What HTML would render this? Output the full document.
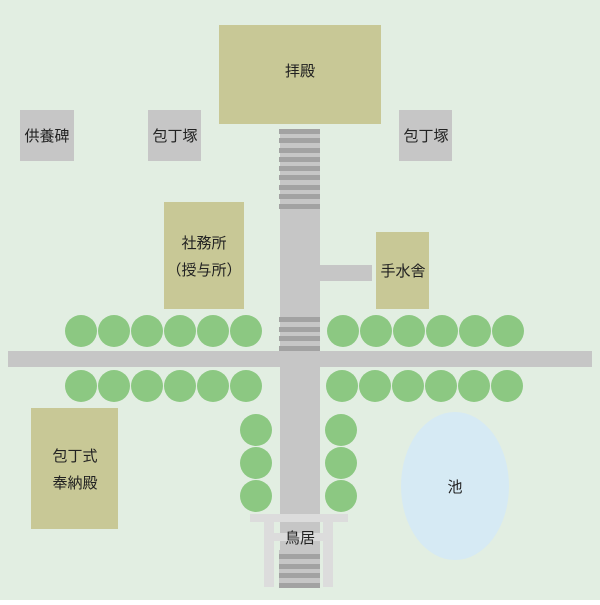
<!DOCTYPE html><html><head><meta charset="utf-8"><style>
body{margin:0}
.t{font-family:"Liberation Sans","Noto Sans CJK JP",sans-serif;font-size:15px;fill:#222}
</style></head><body>
<svg width="600" height="600" xmlns="http://www.w3.org/2000/svg">
<rect width="600" height="600" fill="#e2eee2"/>
<rect x="219" y="25" width="162" height="99" fill="#c8c896"/>
<rect x="20" y="110" width="54" height="51" fill="#c6c6c6"/>
<rect x="148" y="110" width="53" height="51" fill="#c6c6c6"/>
<rect x="399" y="110" width="53" height="51" fill="#c6c6c6"/>
<rect x="164" y="202" width="80" height="107" fill="#c8c896"/>
<rect x="376" y="232" width="53" height="77" fill="#c8c896"/>
<rect x="31" y="408" width="87" height="121" fill="#c8c896"/>
<ellipse cx="455" cy="486" rx="54" ry="74" fill="#d6eaf4"/>
<rect x="8" y="351" width="584" height="16" fill="#c6c6c6"/>
<rect x="280" y="129" width="40" height="421" fill="#c6c6c6"/>
<rect x="320" y="265" width="52" height="16" fill="#c6c6c6"/>
<g fill="#a2a2a2">
<rect x="279" y="129" width="41" height="5"/><rect x="279" y="138" width="41" height="5"/><rect x="279" y="148" width="41" height="5"/><rect x="279" y="157" width="41" height="5"/><rect x="279" y="166" width="41" height="5"/><rect x="279" y="175" width="41" height="5"/><rect x="279" y="185" width="41" height="5"/><rect x="279" y="194" width="41" height="5"/><rect x="279" y="204" width="41" height="5"/>
<rect x="279" y="317" width="41" height="5"/><rect x="279" y="327" width="41" height="5"/><rect x="279" y="336" width="41" height="5"/><rect x="279" y="346" width="41" height="5"/>
</g>
<g fill="#8cc882">
<circle cx="81" cy="331" r="16"/><circle cx="114" cy="331" r="16"/><circle cx="147" cy="331" r="16"/><circle cx="180" cy="331" r="16"/><circle cx="213" cy="331" r="16"/><circle cx="246" cy="331" r="16"/>
<circle cx="343" cy="331" r="16"/><circle cx="376" cy="331" r="16"/><circle cx="409" cy="331" r="16"/><circle cx="442" cy="331" r="16"/><circle cx="475" cy="331" r="16"/><circle cx="508" cy="331" r="16"/>
<circle cx="81" cy="386" r="16"/><circle cx="114" cy="386" r="16"/><circle cx="147" cy="386" r="16"/><circle cx="180" cy="386" r="16"/><circle cx="213" cy="386" r="16"/><circle cx="246" cy="386" r="16"/>
<circle cx="342" cy="386" r="16"/><circle cx="375" cy="386" r="16"/><circle cx="408" cy="386" r="16"/><circle cx="441" cy="386" r="16"/><circle cx="474" cy="386" r="16"/><circle cx="507" cy="386" r="16"/>
<circle cx="256" cy="430" r="16"/><circle cx="256" cy="463" r="16"/><circle cx="256" cy="496" r="16"/>
<circle cx="341" cy="430" r="16"/><circle cx="341" cy="463" r="16"/><circle cx="341" cy="496" r="16"/>
</g>
<g fill="#dcdcdc">
<rect x="250" y="514" width="98" height="8"/>
<rect x="264" y="522" width="10" height="65"/><rect x="323" y="522" width="10" height="65"/>
<rect x="274" y="533" width="49" height="8"/>
</g>
<rect x="279" y="550" width="41" height="37" fill="#c6c6c6"/>
<g fill="#a2a2a2"><rect x="279" y="554" width="41" height="5"/><rect x="279" y="564" width="41" height="5"/><rect x="279" y="573" width="41" height="5"/><rect x="279" y="583" width="41" height="5"/></g>
<g class="t" text-anchor="middle">
<text x="300" y="76">拝殿</text>
<text x="47" y="141">供養碑</text>
<text x="175" y="141">包丁塚</text>
<text x="426" y="141">包丁塚</text>
<text x="204" y="248">社務所</text>
<text x="204" y="275">（授与所）</text>
<text x="403" y="276">手水舎</text>
<text x="75" y="461">包丁式</text>
<text x="75" y="488">奉納殿</text>
<text x="455" y="492">池</text>
<text x="300" y="543">鳥居</text>
</g>
</svg></body></html>
